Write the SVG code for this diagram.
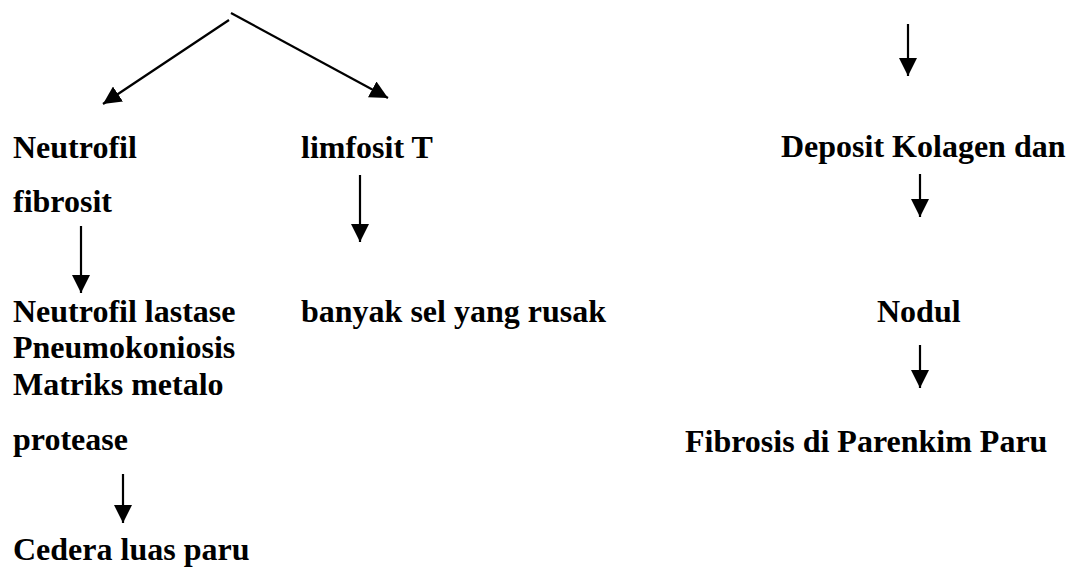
<svg xmlns="http://www.w3.org/2000/svg" width="1074" height="572" viewBox="0 0 1074 572">
  <style>
    .lbl { font-family: "Liberation Serif", "Times New Roman", serif; font-weight: bold; font-size: 32px; fill: #000; }
    .edge { stroke: #000; stroke-width: 2.2; fill: none; marker-end: url(#head); }
  </style>
  <defs>
    <marker id="head" markerUnits="userSpaceOnUse" markerWidth="18" markerHeight="18" viewBox="0 0 16 16" refX="16" refY="8" orient="auto">
      <path d="M0,0 L16,8 L0,16 Z" fill="#000"/>
    </marker>
  </defs>
  <rect width="1074" height="572" fill="#fff"/>

  <g id="connectors">
    <path class="edge" d="M229,20 L103,104"/>
    <path class="edge" d="M231,13 L388,98"/>
    <path class="edge" d="M81,226 L81,293"/>
    <path class="edge" d="M360,175 L360,242"/>
    <path class="edge" d="M123,474 L123,523"/>
    <path class="edge" d="M908,24 L908,76"/>
    <path class="edge" d="M920,174 L920,217"/>
    <path class="edge" d="M920,345 L920,388"/>
  </g>

  <g id="neutrofil"><text class="lbl" x="13" y="158">Neutrofil</text></g>
  <g id="limfosit"><text class="lbl" x="301" y="158">limfosit T</text></g>
  <g id="fibrosit"><text class="lbl" x="13" y="212">fibrosit</text></g>
  <g id="enzim">
    <text class="lbl" x="13" y="322">Neutrofil lastase</text>
    <text class="lbl" x="13" y="358">Pneumokoniosis</text>
    <text class="lbl" x="13" y="395">Matriks metalo</text>
    <text class="lbl" x="13" y="450">protease</text>
  </g>
  <g id="cedera"><text class="lbl" x="13" y="560">Cedera luas paru</text></g>
  <g id="sel-rusak"><text class="lbl" x="301" y="322">banyak sel yang rusak</text></g>
  <g id="deposit"><text class="lbl" x="781" y="157">Deposit Kolagen dan</text></g>
  <g id="nodul"><text class="lbl" x="877" y="322">Nodul</text></g>
  <g id="fibrosis"><text class="lbl" x="685" y="452">Fibrosis di Parenkim Paru</text></g>
</svg>
